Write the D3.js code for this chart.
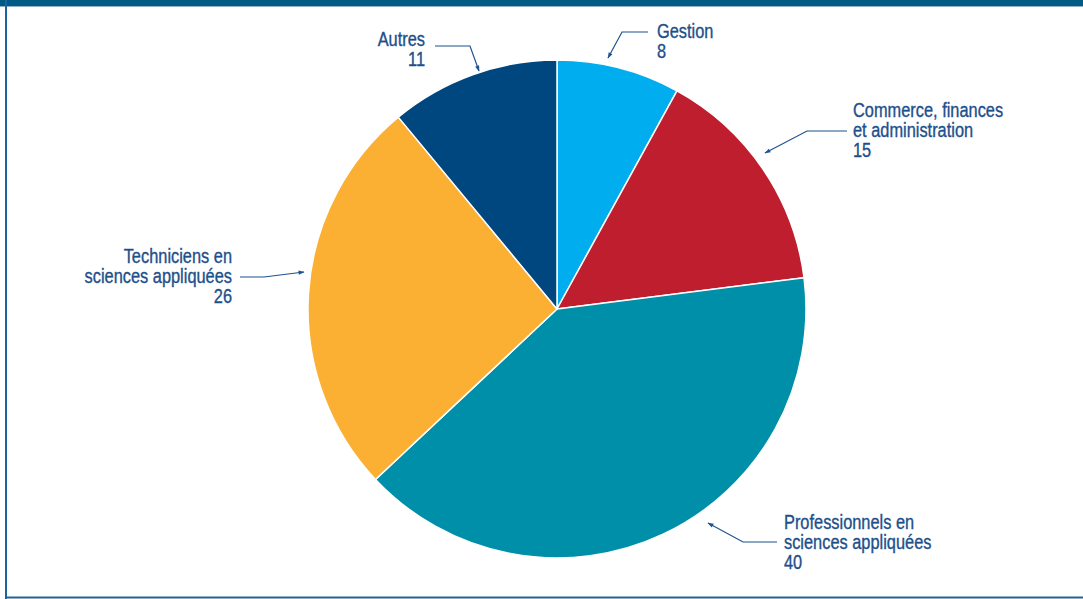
<!DOCTYPE html>
<html lang="fr">
<head>
<meta charset="utf-8">
<script src="https://cdn.jsdelivr.net/npm/d3@7"></script>
<style>
  html, body { margin: 0; padding: 0; background: #ffffff; }
  svg { display: block; }
  .lbl { font-family: "Liberation Sans", Arial, sans-serif; font-size: 19.5px; fill: #1d4f8b; stroke: #1d4f8b; stroke-width: 0.35px; }
</style>
</head>
<body>
<svg id="chart" width="1083" height="599"></svg>
<script>
// Répartition par groupe professionnel (%)
const categories = ["Gestion", "Commerce, finances et administration", "Professionnels en sciences appliquées", "Techniciens en sciences appliquées", "Autres"];
const values = [8, 15, 40, 26, 11];
// Libellés affichés, ligne par ligne
const labelLines = [
  ["Gestion"],
  ["Commerce, finances", "et administration"],
  ["Professionnels en", "sciences appliquées"],
  ["Techniciens en", "sciences appliquées"],
  ["Autres"]
];
const colors = ["#00aeef", "#be1e2d", "#008fa8", "#fbb034", "#00467f"];

const W = 1083, H = 599;
const cx = 557, cy = 309, R = 249;
const narrow = 0.84; // compression horizontale du texte (style « condensé »)

const svg = d3.select("#chart");

// Cadre : bandeau supérieur, filets gauche et bas
svg.append("rect").attr("x", 0).attr("y", 0).attr("width", W).attr("height", 6).attr("fill", "#005a86");
svg.append("rect").attr("x", 0).attr("y", 6).attr("width", W).attr("height", 1).attr("fill", "#8fb3c9");
svg.append("line").attr("x1", 6).attr("x2", 6).attr("y1", 0).attr("y2", H)
  .attr("stroke", "#1a659b").attr("stroke-width", 2);
svg.append("line").attr("x1", 5).attr("x2", W).attr("y1", 597.5).attr("y2", 597.5)
  .attr("stroke", "#1a659b").attr("stroke-width", 2);

// Secteurs
const pie = d3.pie().sort(null).value(d => d);
const arc = d3.arc().innerRadius(0).outerRadius(R);
const arcs = pie(values);

const g = svg.append("g").attr("transform", `translate(${cx},${cy})`);
g.selectAll("path.slice")
  .data(arcs)
  .join("path")
  .attr("class", "slice")
  .attr("d", arc)
  .attr("fill", (d, i) => colors[i])
  .attr("stroke", "#ffffff")
  .attr("stroke-width", 1.5)
  .attr("stroke-linejoin", "round");

// Pointe de flèche
svg.append("defs").append("marker")
  .attr("id", "tip")
  .attr("viewBox", "0 0 10 10")
  .attr("refX", 9).attr("refY", 5)
  .attr("markerWidth", 7).attr("markerHeight", 6)
  .attr("markerUnits", "userSpaceOnUse")
  .attr("orient", "auto")
  .append("path")
  .attr("d", "M0,1.5 L10,5 L0,8.5 Z")
  .attr("fill", "#1d5390");

// Placement des étiquettes, relatif au centre du disque
// text: [x, y de la 1re ligne], anchor, leader: points du trait (dernier = pointe)
const layout = [
  { text: [100, -271], anchor: "start", leader: [[91, -277], [65, -277], [51, -251]] },
  { text: [296, -192], anchor: "start", leader: [[290, -178], [250, -178], [208, -156]] },
  { text: [227, 220], anchor: "start", leader: [[220, 233], [186, 233], [151, 214]] },
  { text: [-325, -46], anchor: "end", leader: [[-317, -32], [-293, -32], [-253, -37]] },
  { text: [-132, -263], anchor: "end", leader: [[-122, -263], [-87, -263], [-78, -238]] }
];
const lineGap = 20;

const ann = svg.append("g").attr("transform", `translate(${cx},${cy})`);
const line = d3.line();

arcs.forEach((a, i) => {
  const L = layout[i];
  ann.append("path")
    .attr("d", line(L.leader))
    .attr("fill", "none")
    .attr("stroke", "#1d5390")
    .attr("stroke-width", 1.2)
    .attr("marker-end", "url(#tip)");

  const t = ann.append("g")
    .attr("transform", `translate(${L.text[0]},${L.text[1]}) scale(${narrow},1)`)
    .append("text")
    .attr("class", "lbl")
    .attr("text-anchor", L.anchor);
  const lines = labelLines[i].concat([String(a.data)]);
  lines.forEach((s, k) => {
    t.append("tspan")
      .attr("x", 0)
      .attr("y", k * lineGap)
      .text(s);
  });
});
</script>
</body>
</html>
